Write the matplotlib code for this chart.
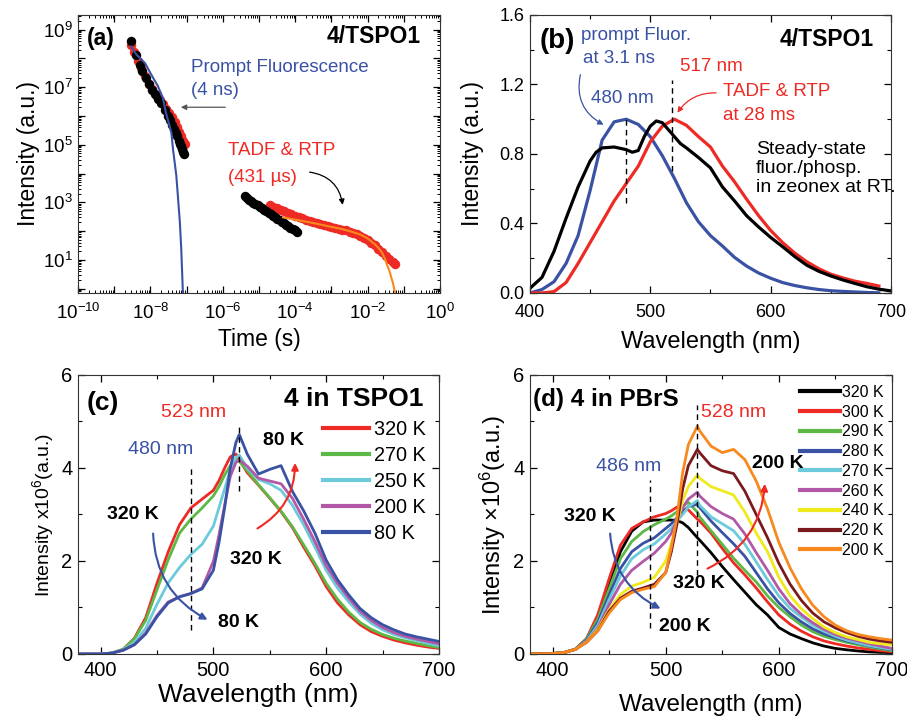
import numpy as np
import matplotlib
matplotlib.use('Agg')
import matplotlib.pyplot as plt
from matplotlib.ticker import LogLocator, FuncFormatter, MultipleLocator, NullFormatter

plt.rcParams['font.family'] = ['Liberation Sans', 'DejaVu Sans']
plt.rcParams['mathtext.fontset'] = 'custom'
plt.rcParams['mathtext.rm'] = 'Liberation Sans'
plt.rcParams['mathtext.it'] = 'Liberation Sans:italic'
plt.rcParams['mathtext.bf'] = 'Liberation Sans:bold'
plt.rcParams['xtick.direction'] = 'in'
plt.rcParams['ytick.direction'] = 'in'
plt.rcParams['xtick.top'] = True
plt.rcParams['ytick.right'] = True
plt.rcParams['axes.edgecolor'] = '#333333'

# 色
RED = '#ee2a24'
BLUE = '#3a52a4'
GREEN = '#5cb946'
CYAN = '#6ccadb'
MAGENTA = '#b158a6'
YELLOW = '#f0ea1c'
MAROON = '#7b1a1d'
ORANGE = '#f7891f'

# (a) 減衰曲線
t_prompt_red = [2.9e-9, 3.5e-9, 4.5e-9, 5.5e-9, 7e-9, 9e-9, 1.1e-8, 1.4e-8, 1.8e-8, 2.2e-8,
                2.7e-8, 3.3e-8, 4.0e-8, 4.7e-8, 5.5e-8, 6.3e-8, 7.2e-8, 8.0e-8, 8.8e-8]
I_prompt_red = [2.8e8, 1.6e8, 7.9e7, 4.5e7, 2.4e7, 1.26e7, 8.3e6, 5.2e6, 3.5e6, 2.6e6,
                1.8e6, 1.26e6, 8.9e5, 6.0e5, 4.0e5, 2.8e5, 2.0e5, 1.4e5, 1.05e5]
t_prompt_blk = [2.9e-9, 4e-9, 5e-9, 6e-9, 7.5e-9, 9e-9, 1.1e-8, 1.3e-8, 1.6e-8, 2.0e-8, 2.5e-8, 3.0e-8,
                3.5e-8, 4.0e-8, 4.5e-8, 5.0e-8, 5.5e-8, 6.0e-8, 6.5e-8, 7.0e-8, 7.5e-8, 8.0e-8, 8.5e-8]
I_prompt_blk = [3.9e8, 1.26e8, 6.0e7, 3.5e7, 2.0e7, 1.26e7, 7.9e6, 5.6e6, 4.0e6, 2.7e6, 1.6e6, 1.0e6,
                7.1e5, 5.0e5, 3.5e5, 2.5e5, 2.0e5, 1.4e5, 1.1e5, 8.9e4, 7.1e4, 5.6e4, 4.6e4]
t_delay_blk = [4.0e-6, 4.6e-6, 5.3e-6, 6.1e-6, 7.0e-6, 8.0e-6, 9.2e-6, 1.06e-5, 1.22e-5, 1.4e-5,
               1.6e-5, 1.85e-5, 2.1e-5, 2.45e-5, 2.8e-5, 3.2e-5, 3.7e-5, 4.3e-5, 4.9e-5, 5.6e-5,
               6.5e-5, 7.4e-5, 8.5e-5, 9.8e-5, 1.1e-4]
I_delay_blk = [1600, 1400, 1250, 1100, 980, 870, 780, 690, 620, 550, 490, 430, 390, 340, 300,
               270, 240, 210, 185, 165, 150, 130, 118, 105, 92]
t_delay_red = [2.0e-5, 2.5e-5, 3.2e-5, 4.0e-5, 5.0e-5, 6.3e-5, 7.9e-5, 1.0e-4, 1.26e-4, 1.58e-4,
               2.0e-4, 2.5e-4, 3.2e-4, 4.0e-4, 5.0e-4, 6.3e-4, 7.9e-4, 1.0e-3, 1.26e-3, 1.58e-3,
               2.0e-3, 2.5e-3, 3.2e-3, 4.0e-3, 5.0e-3, 6.3e-3, 7.9e-3, 1.0e-2, 1.26e-2, 1.58e-2,
               2.0e-2, 2.5e-2, 3.2e-2, 4.0e-2, 5.0e-2, 5.7e-2]
I_delay_red = [790, 710, 630, 560, 500, 440, 380, 340, 300, 275, 250, 230, 210, 190, 178, 162,
               150, 140, 132, 120, 112, 105, 95, 87, 79, 68, 56, 48, 40, 32, 24, 19, 14, 10.7, 8.5, 7.2]
t_fit_prompt = [2.9e-9, 4.1e-9, 7.1e-9, 1.05e-8, 1.6e-8, 2.2e-8, 2.7e-8, 3.8e-8, 4.2e-8, 5.2e-8,
                5.8e-8, 6.5e-8, 7.1e-8, 7.9e-8, 8.4e-8]
I_fit_prompt = [2.6e8, 1.35e8, 6.8e7, 2.75e7, 1.1e7, 4.3e6, 1.26e6, 2.6e5, 7.2e4, 8.5e3,
                1.4e3, 210, 26, 0.72, 0.15]
t_fit_delay = [4.6e-5, 1e-4, 3.2e-4, 1e-3, 2e-3, 3.2e-3, 6.3e-3, 1e-2, 1.58e-2, 2e-2, 2.5e-2,
               3e-2, 3.5e-2, 4e-2, 4.5e-2, 5e-2, 5.75e-2, 6.2e-2]
I_fit_delay = [300, 250, 190, 140, 117, 100, 76, 56, 35, 26, 18, 11, 6.3, 4.2, 2.5, 1.6, 0.72, 0.4]

# (b) 規格化スペクトル
wl_b = [400, 410, 420, 430, 440, 450, 460, 470, 480, 490, 500, 510, 520, 530, 540, 550, 560, 570,
        580, 590, 600, 610, 620, 630, 640, 650, 660, 670, 680, 690]
prompt_b = [0.0, 0.02, 0.065, 0.17, 0.33, 0.59, 0.88, 0.985, 1.0, 0.97, 0.9, 0.79, 0.66, 0.52, 0.41,
            0.33, 0.27, 0.205, 0.155, 0.115, 0.085, 0.06, 0.043, 0.03, 0.02, 0.013, 0.009, 0.006,
            0.003, 0.001]
delayed_b = [0.0, 0.0, 0.008, 0.06, 0.17, 0.29, 0.41, 0.53, 0.63, 0.73, 0.87, 0.96, 1.0, 0.965, 0.9,
             0.84, 0.73, 0.64, 0.54, 0.445, 0.36, 0.29, 0.23, 0.18, 0.14, 0.108, 0.087, 0.068,
             0.055, 0.04]
wl_b_ss = [400, 410, 420, 430, 440, 450, 455, 460, 470, 480, 485, 490, 495, 500, 505, 510, 515, 520,
           525, 530, 540, 550, 560, 570, 580, 590, 600, 610, 620, 630, 640, 650, 660, 670, 680, 690, 700]
steady_b = [0.027, 0.09, 0.24, 0.43, 0.61, 0.76, 0.81, 0.835, 0.84, 0.825, 0.81, 0.82, 0.9, 0.96,
            0.99, 0.98, 0.94, 0.9, 0.86, 0.835, 0.78, 0.72, 0.61, 0.53, 0.445, 0.38, 0.32, 0.266,
            0.21, 0.16, 0.125, 0.098, 0.075, 0.055, 0.036, 0.022, 0.012]

# (c) 4 in TSPO1 温度依存
wl_c = [380, 400, 410, 420, 430, 440, 450, 460, 470, 480, 490, 500, 505, 510, 515, 520, 523, 530,
        540, 550, 560, 570, 580, 590, 600, 610, 620, 630, 640, 650, 660, 670, 680, 690, 700]
c_320K = [0, 0.0, 0.02, 0.1, 0.34, 0.78, 1.52, 2.2, 2.78, 3.14, 3.33, 3.52, 3.73, 4.0, 4.24, 4.3, 4.18,
          3.9, 3.63, 3.35, 3.06, 2.72, 2.3, 1.9, 1.45, 1.1, 0.84, 0.63, 0.48, 0.38, 0.3, 0.24, 0.19,
          0.15, 0.12]
c_270K = [0, 0.0, 0.02, 0.1, 0.33, 0.72, 1.38, 2.03, 2.6, 2.9, 3.14, 3.4, 3.6, 3.85, 4.05, 4.18, 4.14,
          3.94, 3.64, 3.36, 3.07, 2.74, 2.35, 1.95, 1.52, 1.18, 0.9, 0.68, 0.53, 0.42, 0.34, 0.28,
          0.23, 0.18, 0.14]
c_250K = [0, 0.0, 0.02, 0.09, 0.25, 0.55, 1.07, 1.53, 1.86, 2.14, 2.36, 2.75, 3.15, 3.55, 3.97, 4.22,
          4.28, 4.0, 3.75, 3.66, 3.52, 3.2, 2.78, 2.3, 1.8, 1.42, 1.12, 0.86, 0.66, 0.52, 0.42, 0.35,
          0.29, 0.23, 0.18]
c_200K = [0, 0.0, 0.02, 0.08, 0.2, 0.45, 0.83, 1.12, 1.23, 1.3, 1.42, 1.99, 2.56, 3.2, 3.82, 4.12,
          4.17, 4.04, 3.78, 3.72, 3.66, 3.35, 2.9, 2.42, 1.9, 1.52, 1.2, 0.92, 0.72, 0.57, 0.46, 0.38,
          0.32, 0.27, 0.22]
c_80K = [0, 0.0, 0.02, 0.08, 0.2, 0.43, 0.8, 1.1, 1.23, 1.3, 1.4, 1.8, 2.4, 3.15, 4.0, 4.55, 4.72,
         4.3, 3.87, 3.97, 4.05, 3.5, 3.08, 2.6, 2.02, 1.6, 1.27, 0.98, 0.78, 0.63, 0.52, 0.43, 0.37,
         0.32, 0.27]

# (d) 4 in PBrS 温度依存
wl_d = [380, 400, 410, 420, 430, 440, 450, 460, 470, 480, 490, 500, 505, 510, 515, 520, 528, 530,
        540, 550, 560, 570, 580, 590, 600, 610, 620, 630, 640, 650, 660, 670, 680, 690, 700]
d_320K = [0, 0.01, 0.03, 0.1, 0.32, 0.78, 1.48, 2.2, 2.64, 2.84, 2.88, 2.88, 2.88, 2.87, 2.82, 2.72,
          2.5, 2.45, 2.18, 1.88, 1.6, 1.33, 1.06, 0.84, 0.57, 0.43, 0.33, 0.24, 0.17, 0.12, 0.09,
          0.065, 0.045, 0.035, 0.03]
d_300K = [0, 0.01, 0.03, 0.1, 0.33, 0.85, 1.62, 2.34, 2.7, 2.84, 2.95, 3.02, 3.08, 3.16, 3.12, 3.1,
          2.9, 2.86, 2.6, 2.27, 1.96, 1.7, 1.42, 1.12, 0.84, 0.64, 0.49, 0.37, 0.28, 0.22, 0.17,
          0.13, 0.1, 0.07, 0.05]
d_290K = [0, 0.01, 0.03, 0.1, 0.32, 0.75, 1.4, 2.05, 2.42, 2.63, 2.78, 2.9, 2.97, 3.06, 3.18, 3.26,
          3.05, 2.95, 2.65, 2.36, 2.06, 1.8, 1.55, 1.25, 1.0, 0.8, 0.62, 0.48, 0.38, 0.31, 0.25,
          0.2, 0.15, 0.11, 0.07]
d_280K = [0, 0.01, 0.03, 0.1, 0.3, 0.68, 1.27, 1.84, 2.2, 2.38, 2.5, 2.7, 2.8, 2.93, 3.05, 3.17,
          3.22, 3.15, 2.86, 2.61, 2.37, 2.1, 1.75, 1.4, 1.1, 0.87, 0.69, 0.54, 0.43, 0.35, 0.28,
          0.23, 0.17, 0.13, 0.09]
d_270K = [0, 0.01, 0.03, 0.1, 0.28, 0.62, 1.17, 1.68, 2.05, 2.24, 2.37, 2.58, 2.7, 2.86, 3.0, 3.16,
          3.3, 3.2, 2.95, 2.8, 2.65, 2.36, 1.98, 1.6, 1.25, 0.98, 0.79, 0.62, 0.49, 0.38, 0.3,
          0.24, 0.18, 0.14, 0.1]
d_260K = [0, 0.01, 0.03, 0.1, 0.27, 0.56, 1.06, 1.5, 1.8, 1.99, 2.17, 2.42, 2.6, 2.88, 3.15, 3.33,
          3.48, 3.4, 3.17, 3.02, 2.9, 2.58, 2.18, 1.8, 1.4, 1.08, 0.85, 0.67, 0.53, 0.42, 0.34,
          0.28, 0.22, 0.17, 0.12]
d_240K = [0, 0.01, 0.03, 0.1, 0.26, 0.53, 0.95, 1.28, 1.46, 1.54, 1.65, 2.0, 2.37, 2.8, 3.3, 3.6,
          3.85, 3.78, 3.6, 3.51, 3.42, 3.05, 2.6, 2.2, 1.65, 1.25, 0.97, 0.76, 0.58, 0.46, 0.37,
          0.31, 0.25, 0.22, 0.2]
d_220K = [0, 0.01, 0.03, 0.1, 0.25, 0.5, 0.92, 1.2, 1.35, 1.42, 1.5, 1.75, 2.2, 2.8, 3.55, 4.05,
          4.4, 4.33, 4.05, 3.94, 3.88, 3.5, 3.0, 2.5, 1.95, 1.5, 1.15, 0.88, 0.69, 0.56, 0.46,
          0.38, 0.32, 0.28, 0.25]
d_200K = [0, 0.01, 0.03, 0.1, 0.25, 0.5, 0.88, 1.17, 1.32, 1.39, 1.45, 1.75, 2.3, 2.95, 3.9, 4.5,
          4.9, 4.8, 4.47, 4.33, 4.4, 4.18, 3.72, 3.12, 2.4, 1.85, 1.4, 1.05, 0.8, 0.62, 0.5, 0.42,
          0.37, 0.33, 0.3]


def log_label(val, pos, keep):
    e = int(round(np.log10(val)))
    if e % 2 != keep:
        return ''
    return r'$\mathdefault{10^{%d}}$' % e


def style_lin(ax, xmaj, xmin, ymaj, ymin, size, xpad=4):
    ax.xaxis.set_major_locator(MultipleLocator(xmaj))
    ax.xaxis.set_minor_locator(MultipleLocator(xmin))
    ax.yaxis.set_major_locator(MultipleLocator(ymaj))
    ax.yaxis.set_minor_locator(MultipleLocator(ymin))
    ax.tick_params(which='major', length=5, width=0.9, labelsize=size, pad=4)
    ax.tick_params(axis='x', which='major', pad=xpad)
    ax.tick_params(which='minor', length=3, width=0.8)


fig = plt.figure(figsize=(9.07, 7.16), dpi=100)

# ---------- (a) ----------
ax = fig.add_axes([0.0860, 0.5908, 0.3991, 0.3883])
ms = 6.8
ax.plot(t_prompt_red, I_prompt_red, 'o', color=RED, ms=ms, mew=0)
ax.plot(t_prompt_blk, I_prompt_blk, 'o', color='black', ms=ms, mew=0)
ax.plot(t_delay_red, I_delay_red, 'o', color=RED, ms=ms, mew=0)
ax.plot(t_delay_blk, I_delay_blk, 'o', color='black', ms=ms, mew=0)
ax.plot(t_fit_prompt, I_fit_prompt, color=BLUE, lw=1.5)
ax.plot(t_fit_delay, I_fit_delay, color=ORANGE, lw=1.5)
ax.set_xscale('log')
ax.set_yscale('log')
ax.set_xlim(1e-10, 1)
ax.set_ylim(0.71, 3.2e9)
ax.xaxis.set_major_locator(LogLocator(base=10, numticks=20))
ax.xaxis.set_minor_locator(LogLocator(base=10, subs=np.arange(2, 10), numticks=20))
ax.yaxis.set_major_locator(LogLocator(base=10, numticks=20))
ax.yaxis.set_minor_locator(LogLocator(base=10, subs=np.arange(2, 10), numticks=20))
ax.xaxis.set_major_formatter(FuncFormatter(lambda v, p: log_label(v, p, 0)))
ax.yaxis.set_major_formatter(FuncFormatter(lambda v, p: log_label(v, p, 1)))
ax.xaxis.set_minor_formatter(NullFormatter())
ax.yaxis.set_minor_formatter(NullFormatter())
ax.tick_params(which='major', length=5, width=0.9, labelsize=13.5, pad=4)
ax.tick_params(axis='x', which='major', pad=7)
ax.tick_params(which='minor', length=2.5, width=0.7)
ax.set_xlabel('Time (s)', fontsize=16.5, labelpad=4)
ax.set_ylabel('Intensity (a.u.)', fontsize=16.5, labelpad=2)
ax.text(0.025, 0.914, '(a)', transform=ax.transAxes, fontsize=16.5, fontweight='bold', va='center')
ax.text(0.948, 0.923, '4/TSPO1', transform=ax.transAxes, fontsize=16.5, fontweight='bold',
        va='center', ha='right')
ax.text(0.312, 0.811, 'Prompt Fluorescence', transform=ax.transAxes, fontsize=13.5, color=BLUE, va='center')
ax.text(0.312, 0.727, '(4 ns)', transform=ax.transAxes, fontsize=13.5, color=BLUE, va='center')
ax.text(0.414, 0.511, 'TADF & RTP', transform=ax.transAxes, fontsize=13.5, color=RED, va='center')
ax.text(0.414, 0.417, '(431 µs)', transform=ax.transAxes, fontsize=13.5, color=RED, va='center')
ax.annotate('', xy=(5.8e-8, 2.0e6), xytext=(1.4e-6, 2.0e6),
            arrowprops=dict(arrowstyle='-|>', color='#555555', lw=0.9, mutation_scale=8))
ax.annotate('', xy=(2.1e-3, 650), xytext=(2.1e-4, 1.15e4),
            arrowprops=dict(arrowstyle='-|>', color='black', lw=0.9, mutation_scale=8,
                            connectionstyle='arc3,rad=-0.4'))

# ---------- (b) ----------
ax = fig.add_axes([0.5843, 0.5908, 0.3980, 0.3883])
ax.plot(wl_b, prompt_b, color=BLUE, lw=2.3)
ax.plot(wl_b, delayed_b, color=RED, lw=2.3)
ax.plot(wl_b_ss, steady_b, color='black', lw=2.3)
ax.plot([480, 480], [0.52, 1.02], ls=(0, (4, 3)), color='black', lw=1)
ax.plot([518, 518], [0.70, 1.226], ls=(0, (4, 3)), color='black', lw=1)
ax.set_xlim(400, 700)
ax.set_ylim(0, 1.6)
style_lin(ax, 100, 50, 0.4, 0.2, 13, xpad=8)
ax.yaxis.set_major_formatter(FuncFormatter(lambda v, p: '%.1f' % v))
ax.set_xlabel('Wavelength (nm)', fontsize=17, labelpad=7)
ax.set_ylabel('Intensity (a.u.)', fontsize=16.5, labelpad=11)
ax.text(408.3, 1.45, '(b)', fontsize=20, fontweight='bold', va='center')
ax.text(685.9, 1.456, '4/TSPO1', fontsize=16.5, fontweight='bold', va='center', ha='right')
ax.text(442.4, 1.482, 'prompt Fluor.', fontsize=13.5, color=BLUE, va='center')
ax.text(444, 1.35, 'at 3.1 ns', fontsize=13.5, color=BLUE, va='center')
ax.text(476.5, 1.12, '480 nm', fontsize=13.5, color=BLUE, va='center', ha='center')
ax.text(551, 1.306, '517 nm', fontsize=13.5, color=RED, va='center', ha='center')
ax.text(560.4, 1.157, 'TADF & RTP', fontsize=13.5, color=RED, va='center')
ax.text(560.4, 1.024, 'at 28 ms', fontsize=13.5, color=RED, va='center')
ax.text(587.8, 0.875, 'Steady-state\nfluor./phosp.\nin zeonex at RT.', fontsize=14, va='top',
        linespacing=1.15)
ax.annotate('', xy=(463.2, 0.961), xytext=(442.4, 1.272),
            arrowprops=dict(arrowstyle='-|>', color=BLUE, lw=0.9, mutation_scale=8,
                            connectionstyle='arc3,rad=0.4'))
ax.annotate('', xy=(521.3, 1.024), xytext=(557, 1.151),
            arrowprops=dict(arrowstyle='-|>', color=RED, lw=0.9, mutation_scale=8,
                            connectionstyle='arc3,rad=0.3'))

# ---------- (c) ----------
ax = fig.add_axes([0.0860, 0.0866, 0.3980, 0.3897])
for vals, col, lab in [(c_320K, RED, '320 K'), (c_270K, GREEN, '270 K'), (c_250K, CYAN, '250 K'),
                       (c_200K, MAGENTA, '200 K'), (c_80K, BLUE, '80 K')]:
    ax.plot(wl_c, vals, color=col, lw=2.0, label=lab)
ax.plot([480, 480], [0.52, 4.06], ls=(0, (4, 3)), color='black', lw=1)
ax.plot([523, 523], [3.5, 4.9], ls=(0, (4, 3)), color='black', lw=1)
ax.set_xlim(380, 700)
ax.set_ylim(0, 6)
style_lin(ax, 100, 50, 2, 1, 14.5, xpad=5)
ax.set_xlabel('Wavelength (nm)', fontsize=19, labelpad=2)
ax.set_ylabel(r'Intensity x10$^{6}$(a.u.)', fontsize=14, labelpad=4)
leg = ax.legend(loc='upper left', bbox_to_anchor=(0.679, 0.84), frameon=False, fontsize=14.3,
                handlelength=2.3, handletextpad=0.25, labelspacing=0.36, borderpad=0, borderaxespad=0)
for h in leg.get_lines():
    h.set_linewidth(3)
ax.text(388, 5.4, '(c)', fontsize=19, fontweight='bold', va='center')
ax.text(685.9, 5.48, '4 in TSPO1', fontsize=19, fontweight='bold', va='center', ha='right')
ax.text(482, 5.19, '523 nm', fontsize=14, color=RED, va='center', ha='center')
ax.text(453.6, 4.39, '480 nm', fontsize=14, color=BLUE, va='center', ha='center')
ax.text(428.8, 2.99, '320 K', fontsize=14, fontweight='bold', va='center', ha='center')
ax.text(522.7, 0.67, '80 K', fontsize=14, fontweight='bold', va='center', ha='center')
ax.text(537.8, 2.04, '320 K', fontsize=14, fontweight='bold', va='center', ha='center')
ax.text(562.6, 4.60, '80 K', fontsize=14, fontweight='bold', va='center', ha='center')
ax.annotate('', xy=(497, 0.71), xytext=(446.5, 2.65),
            arrowprops=dict(arrowstyle='-|>', color=BLUE, lw=1.5, mutation_scale=10,
                            connectionstyle='arc3,rad=0.3'))
ax.annotate('', xy=(572.4, 4.17), xytext=(536.9, 2.67),
            arrowprops=dict(arrowstyle='-|>', color=RED, lw=1.5, mutation_scale=10,
                            connectionstyle='arc3,rad=0.3'))

# ---------- (d) ----------
ax = fig.add_axes([0.5843, 0.0866, 0.3991, 0.3897])
for vals, col, lab in [(d_320K, 'black', '320 K'), (d_300K, RED, '300 K'), (d_290K, GREEN, '290 K'),
                       (d_280K, BLUE, '280 K'), (d_270K, CYAN, '270 K'), (d_260K, MAGENTA, '260 K'),
                       (d_240K, YELLOW, '240 K'), (d_220K, MAROON, '220 K'), (d_200K, ORANGE, '200 K')]:
    ax.plot(wl_d, vals, color=col, lw=2.0, label=lab)
ax.plot([486, 486], [0.56, 3.74], ls=(0, (4, 3)), color='black', lw=1)
ax.plot([528, 528], [1.7, 5.35], ls=(0, (4, 3)), color='black', lw=1)
ax.set_xlim(380, 700)
ax.set_ylim(0, 6)
style_lin(ax, 100, 50, 2, 1, 14.5, xpad=5)
ax.set_xlabel('Wavelength (nm)', fontsize=17.5, labelpad=10)
ax.set_ylabel(r'Intensity $\times$10$^{6}$(a.u.)', fontsize=17, labelpad=4)
leg = ax.legend(loc='upper left', bbox_to_anchor=(0.746, 0.965), frameon=False, fontsize=11.5,
                handlelength=2.5, handletextpad=0.15, labelspacing=0.3, borderpad=0, borderaxespad=0)
for h in leg.get_lines():
    h.set_linewidth(3)
ax.text(382.7, 5.48, '(d) 4 in PBrS', fontsize=17.5, fontweight='bold', va='center')
ax.text(560.4, 5.2, '528 nm', fontsize=14, color=RED, va='center', ha='center')
ax.text(467.5, 4.04, '486 nm', fontsize=14, color=BLUE, va='center', ha='center')
ax.text(433, 2.95, '320 K', fontsize=14, fontweight='bold', va='center', ha='center')
ax.text(517, 0.60, '200 K', fontsize=14, fontweight='bold', va='center', ha='center')
ax.text(529.4, 1.51, '320 K', fontsize=14, fontweight='bold', va='center', ha='center')
ax.text(599.3, 4.09, '200 K', fontsize=14, fontweight='bold', va='center', ha='center')
ax.annotate('', xy=(497.6, 0.95), xytext=(450.7, 2.65),
            arrowprops=dict(arrowstyle='-|>', color=BLUE, lw=1.5, mutation_scale=10,
                            connectionstyle='arc3,rad=0.3'))
ax.annotate('', xy=(587.8, 3.72), xytext=(534.7, 1.81),
            arrowprops=dict(arrowstyle='-|>', color=RED, lw=1.5, mutation_scale=10,
                            connectionstyle='arc3,rad=0.3'))

fig.savefig('out.png', dpi=100)
